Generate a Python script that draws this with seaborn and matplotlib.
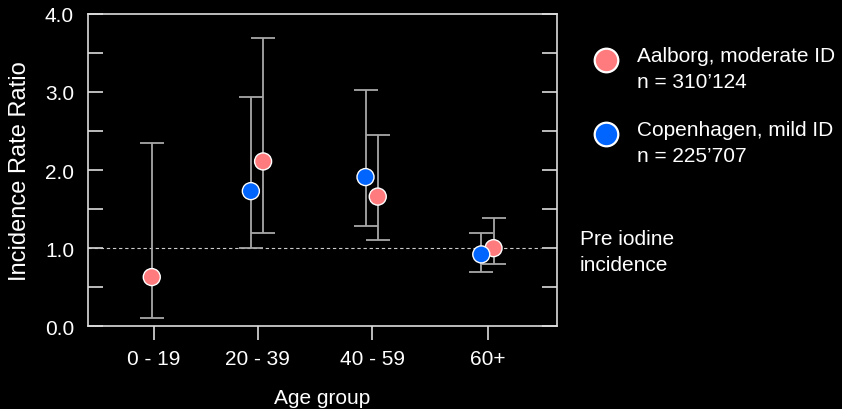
import numpy as np
import pandas as pd
import seaborn as sns
import matplotlib.pyplot as plt
from matplotlib.lines import Line2D

# data
age_groups = ['0 - 19', '20 - 39', '40 - 59', '60+']

aalborg_irr = [0.63, 2.11, 1.66, 1.00]
aalborg_low = [0.10, 1.19, 1.10, 0.80]
aalborg_high = [2.35, 3.69, 2.45, 1.39]

cph_irr = [np.nan, 1.73, 1.91, 0.92]
cph_low = [np.nan, 1.00, 1.29, 0.70]
cph_high = [np.nan, 2.93, 3.03, 1.19]

# layout
tick_pos = [0, 0.93, 1.96, 3.0]
offsets = {'Aalborg': 0.05, 'Copenhagen': -0.06}
colors = {'Aalborg': '#FF7B7E', 'Copenhagen': '#0064FF'}

rows = []
for i, g in enumerate(age_groups):
    rows.append(('Aalborg', g, aalborg_irr[i], aalborg_low[i], aalborg_high[i]))
    rows.append(('Copenhagen', g, cph_irr[i], cph_low[i], cph_high[i]))
df = pd.DataFrame(rows, columns=['cohort', 'age', 'irr', 'low', 'high']).dropna()
df['x'] = [tick_pos[age_groups.index(a)] + (offsets[c] if a != '0 - 19' else -0.02)
           for c, a in zip(df['cohort'], df['age'])]

sns.set_style('dark')
plt.rcParams['font.family'] = ['Liberation Sans', 'DejaVu Sans']

fig = plt.figure(figsize=(8.42, 4.10), dpi=100, facecolor='black')
ax = fig.add_axes([0.1045, 0.2017, 0.557, 0.7623])
ax.set_facecolor('black')

# pre iodine reference line
ax.axhline(1.0, xmin=0, xmax=0.965, color='#cccccc', lw=0.8, ls=(0, (3, 2.5)), zorder=1)

# confidence intervals
for _, r in df.iterrows():
    ax.errorbar(r['x'], r['irr'], yerr=[[r['irr'] - r['low']], [r['high'] - r['irr']]],
                fmt='none', ecolor='#a8a8a8', elinewidth=1.3, capsize=8.5, capthick=1.3,
                zorder=2)

sns.scatterplot(data=df, x='x', y='irr', hue='cohort', palette=colors, s=150,
                edgecolor='white', linewidth=1.0, legend=False, zorder=3, ax=ax)

ax.set_xlim(-0.593, 3.62)
ax.set_ylim(0, 4.0)
ax.set_xticks(tick_pos)
ax.set_xticklabels(age_groups)
ax.set_yticks([0, 1, 2, 3, 4])
ax.set_yticklabels(['0.0', '1.0', '2.0', '3.0', '4.0'])
ax.set_yticks(np.arange(0.5, 4, 1.0), minor=True)
ax.grid(False)

ax.tick_params(axis='y', which='both', direction='in', length=11, width=1.2,
               color='#dddddd', labelcolor='white', labelsize=15, pad=10,
               left=True, right=True)
ax.tick_params(axis='x', direction='out', length=10, width=1.2, color='#dddddd',
               labelcolor='white', labelsize=15, pad=6, bottom=True)

for s in ax.spines.values():
    s.set_color('#dddddd')
    s.set_linewidth(1.2)
    s.set_visible(True)

ax.set_xlabel('Age group', color='white', fontsize=15, labelpad=15)
ax.set_ylabel('Incidence Rate Ratio', color='white', fontsize=17, labelpad=10)

# legend drawn by hand
for name, y, label in [('Aalborg', 61, 'Aalborg, moderate ID\nn = 310\u2019124'),
                       ('Copenhagen', 135, 'Copenhagen, mild ID\nn = 225\u2019707')]:
    fig.add_artist(Line2D([606 / 842], [1 - y / 410], marker='o', markersize=17,
                          markerfacecolor=colors[name], markeredgecolor='white',
                          markeredgewidth=1.6, transform=fig.transFigure))
    fig.text(637 / 842, 1 - (y - 14) / 410, label, color='white', fontsize=15,
             va='top', ha='left', linespacing=1.45)

fig.text(580 / 842, 1 - 230 / 410, 'Pre iodine\nincidence', color='white', fontsize=15,
         va='top', ha='left', linespacing=1.45)

fig.savefig('out.png', dpi=100, facecolor='black')
